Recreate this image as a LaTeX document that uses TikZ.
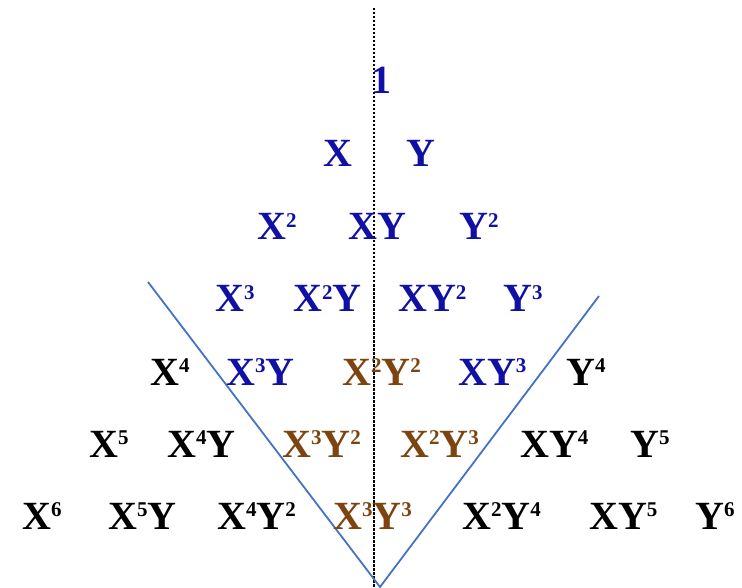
\documentclass[tikz,border=0pt]{standalone}
\usepackage{fontspec}
\setmainfont{Liberation Serif}
\definecolor{tblue}{RGB}{16,16,165}
\definecolor{tbrown}{RGB}{125,68,16}
\definecolor{vline}{RGB}{68,114,196}
\newcommand{\sq}[1]{\raisebox{12.5pt}{\fontsize{21}{21}\selectfont #1}}
\begin{document}
\begin{tikzpicture}[x=1pt,y=-1pt,
  term/.style={anchor=base west,inner sep=0pt,font=\fontsize{40}{48}\selectfont\bfseries},
  tb/.style={term,text=tblue},
  tr/.style={term,text=tbrown},
  tk/.style={term,text=black}]
\useasboundingbox (0,0) rectangle (742,588);
% vertical dotted axis
\coordinate (axt) at (374,8);
\coordinate (axb) at (374,588);
\draw[line width=2pt,dash pattern=on 2.5pt off 1.5pt] (axt) -- (axb);
% V lines
\coordinate (vl) at (148,282);
\coordinate (vb) at (380,587);
\coordinate (vr) at (599,296);
\draw[vline,line width=1.8pt] (vl) -- (vb) -- (vr);
% row 0
\node[tb] (r0a) at (371,94) {1};
% row 1
\node[tb] (r1a) at (323,167) {X};
\node[tb] (r1b) at (406,167) {Y};
% row 2
\node[tb] (r2a) at (257,240) {X\sq{2}};
\node[tb] (r2b) at (348,240) {XY};
\node[tb] (r2c) at (459,240) {Y\sq{2}};
% row 3
\node[tb] (r3a) at (215,312) {X\sq{3}};
\node[tb] (r3b) at (293,312) {X\sq{2}Y};
\node[tb] (r3c) at (398,312) {XY\sq{2}};
\node[tb] (r3d) at (503,312) {Y\sq{3}};
% row 4
\node[tk] (r4a) at (150,385) {X\sq{4}};
\node[tb] (r4b) at (226,385) {X\sq{3}Y};
\node[tr] (r4c) at (342,385) {X\sq{2}Y\sq{2}};
\node[tb] (r4d) at (458,385) {XY\sq{3}};
\node[tk] (r4e) at (566,385) {Y\sq{4}};
% row 5
\node[tk] (r5a) at (89,457) {X\sq{5}};
\node[tk] (r5b) at (167,457) {X\sq{4}Y};
\node[tr] (r5c) at (282,457) {X\sq{3}Y\sq{2}};
\node[tr] (r5d) at (400,457) {X\sq{2}Y\sq{3}};
\node[tk] (r5e) at (520,457) {XY\sq{4}};
\node[tk] (r5f) at (630,457) {Y\sq{5}};
% row 6
\node[tk] (r6a) at (22,529) {X\sq{6}};
\node[tk] (r6b) at (108,529) {X\sq{5}Y};
\node[tk] (r6c) at (217,529) {X\sq{4}Y\sq{2}};
\node[tr] (r6d) at (333,529) {X\sq{3}Y\sq{3}};
\node[tk] (r6e) at (462,529) {X\sq{2}Y\sq{4}};
\node[tk] (r6f) at (589,529) {XY\sq{5}};
\node[tk] (r6g) at (695,529) {Y\sq{6}};
\end{tikzpicture}
\end{document}
